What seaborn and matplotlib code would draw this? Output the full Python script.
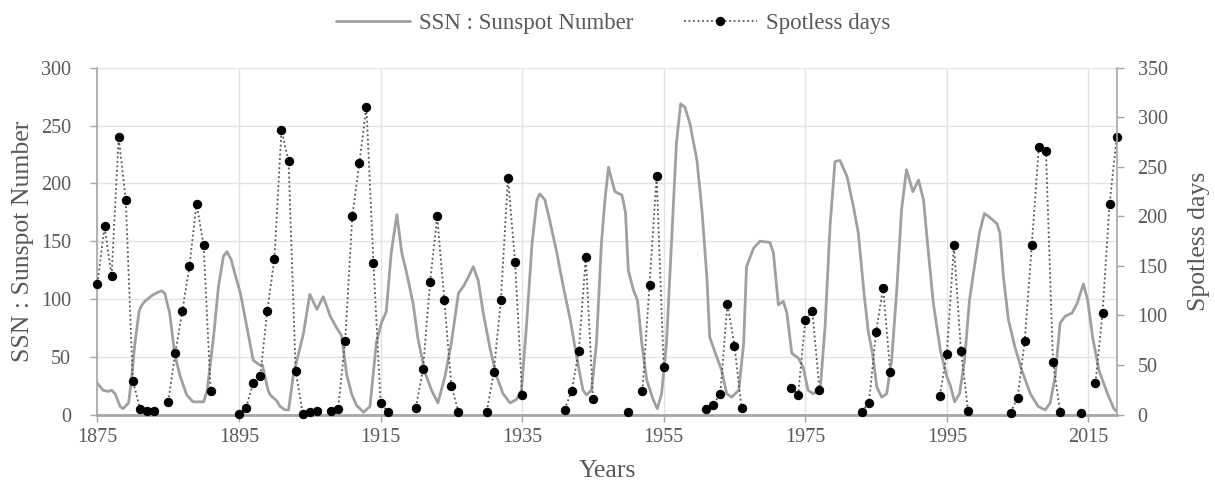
import matplotlib
matplotlib.use("Agg")
import matplotlib.pyplot as plt
import seaborn as sns
import pandas as pd

# ---- data ----
ssn_years = [1875.0, 1875.8, 1876.5, 1877.0, 1877.5, 1878.2, 1878.6, 1879.4, 1879.8, 1880.3,
             1880.9, 1881.2, 1881.7, 1882.7, 1883.6, 1884.1, 1884.5, 1885.2, 1885.9, 1886.4,
             1886.7, 1887.6, 1888.5, 1890.0, 1890.5, 1891.4, 1892.1, 1892.8, 1893.3, 1893.9,
             1894.5, 1895.2, 1896.1, 1897.0, 1897.9, 1898.3, 1899.1, 1899.4, 1900.3, 1900.8,
             1901.5, 1902.0, 1902.7, 1904.1, 1905.0, 1906.0, 1906.9, 1907.9, 1908.8, 1909.5,
             1910.2, 1910.9, 1911.6, 1912.6, 1913.5, 1914.4, 1915.1, 1915.8, 1916.5, 1917.3,
             1918.0, 1918.7, 1919.6, 1920.3, 1921.3, 1922.2, 1923.1, 1924.1, 1925.0, 1926.0,
             1926.7, 1927.4, 1928.1, 1928.8, 1929.5, 1930.5, 1931.4, 1932.3, 1933.3, 1934.2,
             1934.9, 1935.6, 1936.4, 1937.1, 1937.5, 1938.2, 1938.9, 1939.9, 1940.8, 1941.8,
             1942.7, 1943.6, 1944.1, 1944.8, 1945.5, 1946.2, 1946.7, 1947.2, 1948.1, 1949.1,
             1949.6, 1950.0, 1950.7, 1951.3, 1951.9, 1952.6, 1953.5, 1954.1, 1954.7, 1955.4,
             1956.1, 1956.8, 1957.4, 1958.0, 1958.7, 1959.7, 1960.4, 1961.1, 1961.5, 1962.3,
             1963.2, 1963.9, 1964.6, 1965.6, 1966.3, 1966.7, 1967.7, 1968.6, 1970.0, 1970.5,
             1971.2, 1971.9, 1972.4, 1973.1, 1974.0, 1974.7, 1975.4, 1976.1, 1977.1, 1977.8,
             1978.5, 1979.2, 1979.9, 1980.9, 1981.8, 1982.5, 1983.3, 1983.9, 1984.5, 1985.1,
             1985.8, 1986.5, 1987.2, 1987.9, 1988.6, 1989.3, 1990.2, 1991.0, 1991.7, 1992.4,
             1993.1, 1994.1, 1995.0, 1995.5, 1996.1, 1996.8, 1997.5, 1998.2, 1998.9, 1999.6,
             2000.3, 2001.0, 2002.1, 2002.5, 2003.0, 2003.7, 2004.6, 2005.6, 2006.8, 2007.9,
             2008.9, 2009.6, 2010.3, 2011.0, 2011.7, 2012.7, 2013.4, 2014.3, 2014.9, 2015.6,
             2016.5, 2017.7, 2018.6, 2019.1]
ssn_values = [27, 21, 20, 21, 18, 7, 5, 10, 30, 62,
              90, 94, 98, 103, 106, 107, 105, 88, 53, 40,
              33, 17, 11, 11, 21, 67, 111, 137, 141, 134,
              120, 105, 76, 47, 43, 43, 21, 17, 12, 7,
              4, 4, 35, 70, 104, 91, 102, 85, 75, 68,
              35, 18, 8, 2, 7, 62, 79, 89, 140, 173,
              140, 122, 96, 65, 36, 21, 10, 33, 62, 105,
              111, 119, 128, 116, 88, 56, 33, 18, 10, 13,
              21, 76, 148, 186, 191, 186, 168, 140, 111, 82,
              50, 21, 17, 21, 62, 148, 186, 214, 193, 190,
              175, 125, 108, 99, 62, 30, 13, 5, 18, 62,
              148, 235, 269, 266, 252, 220, 177, 119, 67, 53,
              38, 18, 15, 21, 62, 128, 144, 150, 149, 140,
              95, 98, 88, 53, 49, 41, 21, 18, 21, 76,
              163, 219, 220, 206, 180, 157, 105, 72, 53, 24,
              15, 18, 47, 105, 177, 212, 193, 203, 186, 140,
              96, 55, 33, 25, 11, 18, 47, 99, 128, 157,
              174, 171, 165, 157, 119, 82, 59, 38, 18, 7,
              4, 10, 33, 79, 85, 88, 96, 113, 99, 67,
              38, 18, 5, 2]

spot_years = [1875, 1876, 1877, 1878, 1879, 1880, 1881, 1882, 1883, 1885, 1886, 1887, 1888,
              1889, 1890, 1891, 1895, 1896, 1897, 1898, 1899, 1900, 1901, 1902, 1903, 1904,
              1905, 1906, 1908, 1909, 1910, 1911, 1912, 1913, 1914, 1915, 1916, 1920, 1921,
              1922, 1923, 1924, 1925, 1926, 1930, 1931, 1932, 1933, 1934, 1935, 1941, 1942,
              1943, 1944, 1945, 1950, 1952, 1953, 1954, 1955, 1961, 1962, 1963, 1964, 1965,
              1966, 1973, 1974, 1975, 1976, 1977, 1983, 1984, 1985, 1986, 1987, 1994, 1995,
              1996, 1997, 1998, 2004, 2005, 2006, 2007, 2008, 2009, 2010, 2011, 2014, 2016,
              2017, 2018, 2019]
spot_days = [132, 190, 140, 280, 217, 34, 6, 4, 4, 13, 62, 105, 150,
             213, 171, 24, 1, 7, 32, 39, 105, 157, 287, 256, 44, 1,
             3, 4, 4, 6, 74, 200, 254, 311, 153, 12, 3, 7, 46,
             134, 200, 116, 29, 3, 3, 43, 116, 239, 154, 20, 5, 24,
             64, 159, 16, 3, 24, 131, 241, 48, 6, 10, 21, 112, 69,
             7, 27, 20, 95, 105, 25, 3, 12, 83, 128, 43, 19, 61,
             171, 64, 4, 2, 17, 74, 171, 270, 266, 53, 3, 2, 32,
             103, 213, 280]

x_ticks = [1875, 1895, 1915, 1935, 1955, 1975, 1995, 2015]
left_ticks = [0, 50, 100, 150, 200, 250, 300]
right_ticks = [0, 50, 100, 150, 200, 250, 300, 350]

# years without a value break the dotted line into separate runs
segments = []
seg = 0
for i, yr in enumerate(spot_years):
    if i > 0 and yr - spot_years[i - 1] > 1:
        seg += 1
    segments.append(seg)

ssn_df = pd.DataFrame({"year": ssn_years, "ssn": ssn_values})
spot_df = pd.DataFrame({"year": spot_years, "days": spot_days, "seg": segments})

# ---- style ----
sns.set_theme(style="white")
plt.rcParams["font.family"] = ["Liberation Serif", "DejaVu Serif"]
txt = "#595959"
grid_c = "#e3e3e3"
spine_c = "#a6a6a6"

fig = plt.figure(figsize=(12.15, 4.88), dpi=100)
ax = fig.add_axes([0.0802, 0.1506, 0.8389, 0.7101])
ax2 = ax.twinx()

sns.lineplot(data=ssn_df, x="year", y="ssn", ax=ax, color="#a0a0a0", linewidth=2.0,
             estimator=None, sort=False, legend=False)
sns.lineplot(data=spot_df, x="year", y="days", units="seg", ax=ax2, color="#555555",
             linewidth=1.3, linestyle=(0, (1, 1.5)), marker="o", markersize=6,
             markerfacecolor="black", markeredgecolor="black", estimator=None, sort=False,
             legend=False)
for ln in ax2.lines:
    ln.set_clip_on(False)

ax.set_xlim(1875, 2019)
ax.set_ylim(0, 300)
ax2.set_ylim(0, 350)
ax.set_xticks(x_ticks)
ax.set_yticks(left_ticks)
ax2.set_yticks(right_ticks)

ax.grid(True, color=grid_c, linewidth=1.0)
ax.set_axisbelow(True)
ax2.grid(False)

for a in (ax, ax2):
    for s in a.spines.values():
        s.set_color(spine_c)
        s.set_linewidth(1.2)
    a.spines["top"].set_visible(False)
ax.spines["bottom"].set_linewidth(2.0)
ax2.spines["left"].set_visible(False)
ax2.spines["bottom"].set_visible(False)
ax.spines["right"].set_visible(False)

ax.tick_params(axis="both", labelsize=14.5, colors=txt, length=5, width=1, color=spine_c,
               left=True, bottom=True, direction="out")
ax.tick_params(axis="x", pad=5)
ax.tick_params(axis="y", pad=14)
ax2.tick_params(axis="y", labelsize=14.5, colors=txt, length=5, width=1, color=spine_c,
                right=True, direction="out", pad=10)

ax.set_xlabel("Years", fontsize=18.5, color=txt, labelpad=9)
ax.set_ylabel("SSN : Sunspot Number", fontsize=18.5, color=txt, labelpad=5)
ax2.set_ylabel("Spotless days", fontsize=18.5, color=txt, labelpad=15, rotation=90)

ssn_handle = ax.lines[0]
spot_handle = ax2.lines[0]
fig.legend([ssn_handle, spot_handle], ["SSN : Sunspot Number", "Spotless days"],
           loc="center", bbox_to_anchor=(0.505, 0.952), ncol=2, frameon=False,
           fontsize=16.5, labelcolor=txt, handlelength=3.2, columnspacing=2.2,
           handletextpad=0.4)

fig.savefig("out.png", dpi=100)
